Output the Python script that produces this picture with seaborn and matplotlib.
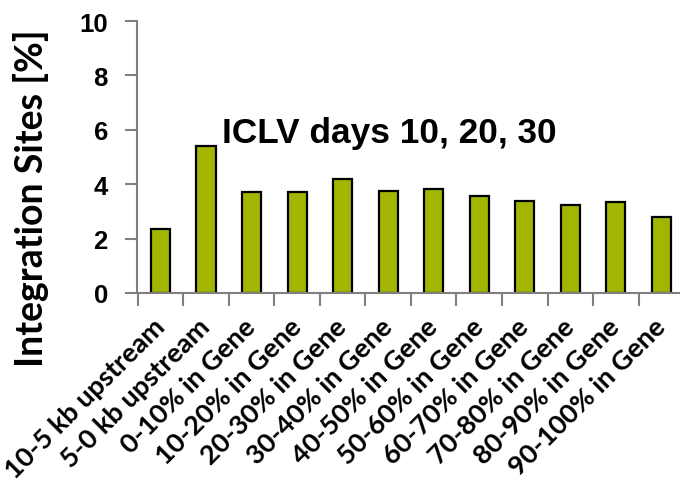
import matplotlib
matplotlib.use("Agg")
import matplotlib.pyplot as plt
import seaborn as sns
import pandas as pd

categories = ["10-5 kb upstream", "5-0 kb upstream", "0-10% in Gene", "10-20% in Gene",
              "20-30% in Gene", "30-40% in Gene", "40-50% in Gene", "50-60% in Gene",
              "60-70% in Gene", "70-80% in Gene", "80-90% in Gene", "90-100% in Gene"]
values = [2.35, 5.39, 3.71, 3.71, 4.18, 3.76, 3.82, 3.58, 3.38, 3.25, 3.36, 2.78]
y_ticks = [0, 2, 4, 6, 8, 10]
title_text = "ICLV days 10, 20, 30"
y_label = "Integration Sites [%]"

sns.set_theme(style="white")
plt.rcParams['font.family'] = ['Liberation Sans', 'DejaVu Sans']
plt.rcParams['text.color'] = 'black'
plt.rcParams['xtick.color'] = 'black'
plt.rcParams['ytick.color'] = 'black'
plt.rcParams['axes.labelcolor'] = 'black'

df = pd.DataFrame({"cat": categories, "val": values})

fig = plt.figure(figsize=(6.8, 4.85), dpi=100)
ax = fig.add_axes([137/680, 1-294/485, 1-137/680, (294-22)/485])
sns.barplot(data=df, x="cat", y="val", ax=ax, color="#A2B500", saturation=1,
            width=0.42, edgecolor="black", linewidth=1.6)

ax.set_ylim(0, 10)
ax.set_xlim(-0.516, 11.41)
ax.set_yticks(y_ticks)
ax.set_yticklabels([str(t) for t in y_ticks], fontsize=18.5, fontweight="bold")
ax.set_xticks([i + 0.5 for i in range(-1, len(categories) - 1)], minor=False)
ax.set_xticklabels([])
ax.set_xticks(range(len(categories)), minor=True)
ax.set_xticklabels(categories, minor=True, rotation=45, ha="right", va="center",
                   rotation_mode="anchor", fontsize=19.5, fontweight="bold", family="Lato")
ax.tick_params(axis="x", which="minor", length=0, pad=21)
ax.tick_params(axis="x", which="major", direction="out", length=9, width=1.5, color="#808080", bottom=True)
ax.tick_params(axis="y", direction="out", length=9, width=1.5, color="#808080", left=True, pad=12,
               labelcolor="black")
ax.set_xlabel("")
ax.set_ylabel(y_label, fontsize=27, fontweight="bold", family="Lato", va="center")
ax.yaxis.set_label_coords(-0.195, (294 - 198) / 272)

for s in ["top", "right"]:
    ax.spines[s].set_visible(False)
for s in ["left", "bottom"]:
    ax.spines[s].set_color("#808080")
    ax.spines[s].set_linewidth(1.5)

ax.text(222/680, 1-133/485, title_text, transform=fig.transFigure, fontsize=25.4,
        fontweight="bold", ha="left", va="center", color="black")

fig.savefig("out.png", dpi=100)
